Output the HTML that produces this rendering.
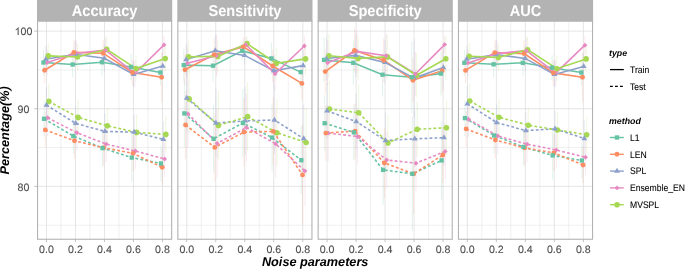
<!DOCTYPE html>
<html><head><meta charset="utf-8"><style>
html,body{margin:0;padding:0;background:#fff;}
body{width:685px;height:269px;overflow:hidden;position:relative;font-family:"Liberation Sans",sans-serif;}
</style></head><body>
<svg width="685" height="269" viewBox="0 0 685 269" style="position:absolute;left:0;top:0;will-change:transform;text-rendering:geometricPrecision">
<rect x="0" y="0" width="685" height="269" fill="#FFFFFF"/>
<line x1="60.95" y1="21.5" x2="60.95" y2="239.8" stroke="#DEDEDE" stroke-width="0.45"/>
<line x1="89.95" y1="21.5" x2="89.95" y2="239.8" stroke="#DEDEDE" stroke-width="0.45"/>
<line x1="118.95" y1="21.5" x2="118.95" y2="239.8" stroke="#DEDEDE" stroke-width="0.45"/>
<line x1="147.95" y1="21.5" x2="147.95" y2="239.8" stroke="#DEDEDE" stroke-width="0.45"/>
<line x1="37" y1="225.21" x2="172.2" y2="225.21" stroke="#DEDEDE" stroke-width="0.45"/>
<line x1="37" y1="147.59" x2="172.2" y2="147.59" stroke="#DEDEDE" stroke-width="0.45"/>
<line x1="37" y1="69.96" x2="172.2" y2="69.96" stroke="#DEDEDE" stroke-width="0.45"/>
<line x1="46.45" y1="21.5" x2="46.45" y2="239.8" stroke="#DEDEDE" stroke-width="0.8"/>
<line x1="75.45" y1="21.5" x2="75.45" y2="239.8" stroke="#DEDEDE" stroke-width="0.8"/>
<line x1="104.45" y1="21.5" x2="104.45" y2="239.8" stroke="#DEDEDE" stroke-width="0.8"/>
<line x1="133.45" y1="21.5" x2="133.45" y2="239.8" stroke="#DEDEDE" stroke-width="0.8"/>
<line x1="162.45" y1="21.5" x2="162.45" y2="239.8" stroke="#DEDEDE" stroke-width="0.8"/>
<line x1="37" y1="186.4" x2="172.2" y2="186.4" stroke="#DEDEDE" stroke-width="0.8"/>
<line x1="37" y1="108.78" x2="172.2" y2="108.78" stroke="#DEDEDE" stroke-width="0.8"/>
<line x1="37" y1="31.15" x2="172.2" y2="31.15" stroke="#DEDEDE" stroke-width="0.8"/>
<line x1="43.45" y1="49.5" x2="43.45" y2="75.5" stroke="#66C2A5" stroke-width="0.9" stroke-opacity="0.22"/>
<line x1="72.69" y1="51.5" x2="72.69" y2="77.5" stroke="#66C2A5" stroke-width="0.9" stroke-opacity="0.22"/>
<line x1="101.93" y1="49.2" x2="101.93" y2="75.2" stroke="#66C2A5" stroke-width="0.9" stroke-opacity="0.22"/>
<line x1="131.17" y1="54" x2="131.17" y2="80" stroke="#66C2A5" stroke-width="0.9" stroke-opacity="0.22"/>
<line x1="160.41" y1="59.5" x2="160.41" y2="85.5" stroke="#66C2A5" stroke-width="0.9" stroke-opacity="0.22"/>
<line x1="44.65" y1="57.2" x2="44.65" y2="83.2" stroke="#FC8D62" stroke-width="0.9" stroke-opacity="0.22"/>
<line x1="73.89" y1="39.4" x2="73.89" y2="65.4" stroke="#FC8D62" stroke-width="0.9" stroke-opacity="0.22"/>
<line x1="103.13" y1="40.2" x2="103.13" y2="66.2" stroke="#FC8D62" stroke-width="0.9" stroke-opacity="0.22"/>
<line x1="132.37" y1="59.5" x2="132.37" y2="85.5" stroke="#FC8D62" stroke-width="0.9" stroke-opacity="0.22"/>
<line x1="161.61" y1="52.2" x2="161.61" y2="102.2" stroke="#FC8D62" stroke-width="0.9" stroke-opacity="0.22"/>
<line x1="45.85" y1="46.3" x2="45.85" y2="72.3" stroke="#8DA0CB" stroke-width="0.9" stroke-opacity="0.22"/>
<line x1="75.09" y1="41.2" x2="75.09" y2="67.2" stroke="#8DA0CB" stroke-width="0.9" stroke-opacity="0.22"/>
<line x1="104.33" y1="45.3" x2="104.33" y2="71.3" stroke="#8DA0CB" stroke-width="0.9" stroke-opacity="0.22"/>
<line x1="133.57" y1="61.4" x2="133.57" y2="87.4" stroke="#8DA0CB" stroke-width="0.9" stroke-opacity="0.22"/>
<line x1="162.81" y1="53" x2="162.81" y2="79" stroke="#8DA0CB" stroke-width="0.9" stroke-opacity="0.22"/>
<line x1="47.05" y1="49.5" x2="47.05" y2="75.5" stroke="#E78AC3" stroke-width="0.9" stroke-opacity="0.22"/>
<line x1="76.29" y1="40.2" x2="76.29" y2="66.2" stroke="#E78AC3" stroke-width="0.9" stroke-opacity="0.22"/>
<line x1="105.53" y1="37.2" x2="105.53" y2="63.2" stroke="#E78AC3" stroke-width="0.9" stroke-opacity="0.22"/>
<line x1="134.77" y1="60.5" x2="134.77" y2="86.5" stroke="#E78AC3" stroke-width="0.9" stroke-opacity="0.22"/>
<line x1="164.01" y1="35.9" x2="164.01" y2="53.9" stroke="#E78AC3" stroke-width="0.9" stroke-opacity="0.22"/>
<line x1="48.25" y1="42.9" x2="48.25" y2="68.9" stroke="#A6D854" stroke-width="0.9" stroke-opacity="0.22"/>
<line x1="77.49" y1="44" x2="77.49" y2="70" stroke="#A6D854" stroke-width="0.9" stroke-opacity="0.22"/>
<line x1="106.73" y1="36.3" x2="106.73" y2="62.3" stroke="#A6D854" stroke-width="0.9" stroke-opacity="0.22"/>
<line x1="135.97" y1="55.6" x2="135.97" y2="81.6" stroke="#A6D854" stroke-width="0.9" stroke-opacity="0.22"/>
<line x1="165.21" y1="45.6" x2="165.21" y2="71.6" stroke="#A6D854" stroke-width="0.9" stroke-opacity="0.22"/>
<line x1="44.05" y1="100.8" x2="44.05" y2="136.8" stroke="#66C2A5" stroke-width="0.9" stroke-opacity="0.22"/>
<line x1="73.29" y1="118" x2="73.29" y2="154" stroke="#66C2A5" stroke-width="0.9" stroke-opacity="0.22"/>
<line x1="102.53" y1="130.1" x2="102.53" y2="166.1" stroke="#66C2A5" stroke-width="0.9" stroke-opacity="0.22"/>
<line x1="131.77" y1="133.6" x2="131.77" y2="181.6" stroke="#66C2A5" stroke-width="0.9" stroke-opacity="0.22"/>
<line x1="161.01" y1="145.5" x2="161.01" y2="181.5" stroke="#66C2A5" stroke-width="0.9" stroke-opacity="0.22"/>
<line x1="45.25" y1="111.9" x2="45.25" y2="147.9" stroke="#FC8D62" stroke-width="0.9" stroke-opacity="0.22"/>
<line x1="74.49" y1="122.8" x2="74.49" y2="158.8" stroke="#FC8D62" stroke-width="0.9" stroke-opacity="0.22"/>
<line x1="103.73" y1="129.7" x2="103.73" y2="165.7" stroke="#FC8D62" stroke-width="0.9" stroke-opacity="0.22"/>
<line x1="132.97" y1="135.4" x2="132.97" y2="171.4" stroke="#FC8D62" stroke-width="0.9" stroke-opacity="0.22"/>
<line x1="162.21" y1="149.3" x2="162.21" y2="185.3" stroke="#FC8D62" stroke-width="0.9" stroke-opacity="0.22"/>
<line x1="46.45" y1="87.1" x2="46.45" y2="123.1" stroke="#8DA0CB" stroke-width="0.9" stroke-opacity="0.22"/>
<line x1="75.69" y1="105.4" x2="75.69" y2="141.4" stroke="#8DA0CB" stroke-width="0.9" stroke-opacity="0.22"/>
<line x1="104.93" y1="113.4" x2="104.93" y2="149.4" stroke="#8DA0CB" stroke-width="0.9" stroke-opacity="0.22"/>
<line x1="134.17" y1="114.1" x2="134.17" y2="150.1" stroke="#8DA0CB" stroke-width="0.9" stroke-opacity="0.22"/>
<line x1="163.41" y1="121.4" x2="163.41" y2="157.4" stroke="#8DA0CB" stroke-width="0.9" stroke-opacity="0.22"/>
<line x1="47.65" y1="99.8" x2="47.65" y2="135.8" stroke="#E78AC3" stroke-width="0.9" stroke-opacity="0.22"/>
<line x1="76.89" y1="114.7" x2="76.89" y2="150.7" stroke="#E78AC3" stroke-width="0.9" stroke-opacity="0.22"/>
<line x1="106.13" y1="126.1" x2="106.13" y2="162.1" stroke="#E78AC3" stroke-width="0.9" stroke-opacity="0.22"/>
<line x1="135.37" y1="133" x2="135.37" y2="169" stroke="#E78AC3" stroke-width="0.9" stroke-opacity="0.22"/>
<line x1="164.61" y1="141" x2="164.61" y2="177" stroke="#E78AC3" stroke-width="0.9" stroke-opacity="0.22"/>
<line x1="48.85" y1="83.4" x2="48.85" y2="119.4" stroke="#A6D854" stroke-width="0.9" stroke-opacity="0.22"/>
<line x1="78.09" y1="99.4" x2="78.09" y2="135.4" stroke="#A6D854" stroke-width="0.9" stroke-opacity="0.22"/>
<line x1="107.33" y1="107.8" x2="107.33" y2="143.8" stroke="#A6D854" stroke-width="0.9" stroke-opacity="0.22"/>
<line x1="136.57" y1="114.4" x2="136.57" y2="150.4" stroke="#A6D854" stroke-width="0.9" stroke-opacity="0.22"/>
<line x1="165.81" y1="116.4" x2="165.81" y2="152.4" stroke="#A6D854" stroke-width="0.9" stroke-opacity="0.22"/>
<polyline points="43.45,62.5 72.69,64.5 101.93,62.2 131.17,67 160.41,72.5" fill="none" stroke="#66C2A5" stroke-width="1.6"/>
<polyline points="44.65,70.2 73.89,52.4 103.13,53.2 132.37,72.5 161.61,77.2" fill="none" stroke="#FC8D62" stroke-width="1.6"/>
<polyline points="45.85,59.3 75.09,54.2 104.33,58.3 133.57,74.4 162.81,66" fill="none" stroke="#8DA0CB" stroke-width="1.6"/>
<polyline points="47.05,62.5 76.29,53.2 105.53,50.2 134.77,73.5 164.01,44.9" fill="none" stroke="#E78AC3" stroke-width="1.6"/>
<polyline points="48.25,55.9 77.49,57 106.73,49.3 135.97,68.6 165.21,58.6" fill="none" stroke="#A6D854" stroke-width="1.6"/>
<polyline points="44.05,118.8 73.29,136 102.53,148.1 131.77,157.6 161.01,163.5" fill="none" stroke="#66C2A5" stroke-width="1.6" stroke-dasharray="2.8 2.2"/>
<polyline points="45.25,129.9 74.49,140.8 103.73,147.7 132.97,153.4 162.21,167.3" fill="none" stroke="#FC8D62" stroke-width="1.6" stroke-dasharray="2.8 2.2"/>
<polyline points="46.45,105.1 75.69,123.4 104.93,131.4 134.17,132.1 163.41,139.4" fill="none" stroke="#8DA0CB" stroke-width="1.6" stroke-dasharray="2.8 2.2"/>
<polyline points="47.65,117.8 76.89,132.7 106.13,144.1 135.37,151 164.61,159" fill="none" stroke="#E78AC3" stroke-width="1.6" stroke-dasharray="2.8 2.2"/>
<polyline points="48.85,101.4 78.09,117.4 107.33,125.8 136.57,132.4 165.81,134.4" fill="none" stroke="#A6D854" stroke-width="1.6" stroke-dasharray="2.8 2.2"/>
<circle cx="48.25" cy="55.9" r="2.8" fill="#A6D854"/>
<circle cx="77.49" cy="57" r="2.8" fill="#A6D854"/>
<circle cx="106.73" cy="49.3" r="2.8" fill="#A6D854"/>
<circle cx="135.97" cy="68.6" r="2.8" fill="#A6D854"/>
<circle cx="165.21" cy="58.6" r="2.8" fill="#A6D854"/>
<polygon points="47.05,60.05 49.5,62.5 47.05,64.95 44.6,62.5" fill="#E78AC3"/>
<polygon points="76.29,50.75 78.74,53.2 76.29,55.65 73.84,53.2" fill="#E78AC3"/>
<polygon points="105.53,47.75 107.98,50.2 105.53,52.65 103.08,50.2" fill="#E78AC3"/>
<polygon points="134.77,71.05 137.22,73.5 134.77,75.95 132.32,73.5" fill="#E78AC3"/>
<polygon points="164.01,42.45 166.46,44.9 164.01,47.35 161.56,44.9" fill="#E78AC3"/>
<polygon points="45.85,55.96 42.95,60.97 48.75,60.97" fill="#8DA0CB"/>
<polygon points="75.09,50.86 72.19,55.87 77.99,55.87" fill="#8DA0CB"/>
<polygon points="104.33,54.96 101.43,59.97 107.23,59.97" fill="#8DA0CB"/>
<polygon points="133.57,71.06 130.67,76.07 136.47,76.07" fill="#8DA0CB"/>
<polygon points="162.81,62.66 159.91,67.67 165.71,67.67" fill="#8DA0CB"/>
<circle cx="44.65" cy="70.2" r="2.45" fill="#FC8D62"/>
<circle cx="73.89" cy="52.4" r="2.45" fill="#FC8D62"/>
<circle cx="103.13" cy="53.2" r="2.45" fill="#FC8D62"/>
<circle cx="132.37" cy="72.5" r="2.45" fill="#FC8D62"/>
<circle cx="161.61" cy="77.2" r="2.45" fill="#FC8D62"/>
<rect x="41.28" y="60.33" width="4.34" height="4.34" fill="#66C2A5"/>
<rect x="70.52" y="62.33" width="4.34" height="4.34" fill="#66C2A5"/>
<rect x="99.76" y="60.03" width="4.34" height="4.34" fill="#66C2A5"/>
<rect x="129" y="64.83" width="4.34" height="4.34" fill="#66C2A5"/>
<rect x="158.24" y="70.33" width="4.34" height="4.34" fill="#66C2A5"/>
<circle cx="48.85" cy="101.4" r="2.8" fill="#A6D854"/>
<circle cx="78.09" cy="117.4" r="2.8" fill="#A6D854"/>
<circle cx="107.33" cy="125.8" r="2.8" fill="#A6D854"/>
<circle cx="136.57" cy="132.4" r="2.8" fill="#A6D854"/>
<circle cx="165.81" cy="134.4" r="2.8" fill="#A6D854"/>
<polygon points="47.65,115.35 50.1,117.8 47.65,120.25 45.2,117.8" fill="#E78AC3"/>
<polygon points="76.89,130.25 79.34,132.7 76.89,135.15 74.44,132.7" fill="#E78AC3"/>
<polygon points="106.13,141.65 108.58,144.1 106.13,146.55 103.68,144.1" fill="#E78AC3"/>
<polygon points="135.37,148.55 137.82,151 135.37,153.45 132.92,151" fill="#E78AC3"/>
<polygon points="164.61,156.55 167.06,159 164.61,161.45 162.16,159" fill="#E78AC3"/>
<polygon points="46.45,101.76 43.55,106.77 49.35,106.77" fill="#8DA0CB"/>
<polygon points="75.69,120.06 72.79,125.07 78.59,125.07" fill="#8DA0CB"/>
<polygon points="104.93,128.06 102.03,133.07 107.83,133.07" fill="#8DA0CB"/>
<polygon points="134.17,128.76 131.27,133.77 137.07,133.77" fill="#8DA0CB"/>
<polygon points="163.41,136.06 160.51,141.07 166.31,141.07" fill="#8DA0CB"/>
<circle cx="45.25" cy="129.9" r="2.45" fill="#FC8D62"/>
<circle cx="74.49" cy="140.8" r="2.45" fill="#FC8D62"/>
<circle cx="103.73" cy="147.7" r="2.45" fill="#FC8D62"/>
<circle cx="132.97" cy="153.4" r="2.45" fill="#FC8D62"/>
<circle cx="162.21" cy="167.3" r="2.45" fill="#FC8D62"/>
<rect x="41.88" y="116.63" width="4.34" height="4.34" fill="#66C2A5"/>
<rect x="71.12" y="133.83" width="4.34" height="4.34" fill="#66C2A5"/>
<rect x="100.36" y="145.93" width="4.34" height="4.34" fill="#66C2A5"/>
<rect x="129.6" y="155.43" width="4.34" height="4.34" fill="#66C2A5"/>
<rect x="158.84" y="161.33" width="4.34" height="4.34" fill="#66C2A5"/>
<rect x="37.55" y="20.9" width="134.1" height="218.35" fill="none" stroke="#B3B3B3" stroke-width="1.1"/>
<rect x="37" y="0" width="135.2" height="21.6" fill="#B3B3B3"/>
<text transform="translate(104.6,15.6) scale(1,1.07)" text-anchor="middle" font-family="Liberation Sans, sans-serif" font-weight="bold" font-size="14.6" fill="#FFFFFF">Accuracy</text>
<line x1="46.45" y1="239.8" x2="46.45" y2="242.1" stroke="#B3B3B3" stroke-width="0.8"/>
<text x="46.45" y="253.3" text-anchor="middle" font-family="Liberation Sans, sans-serif" font-size="10.6" fill="#4D4D4D" stroke="#4D4D4D" stroke-width="0.1">0.0</text>
<line x1="75.45" y1="239.8" x2="75.45" y2="242.1" stroke="#B3B3B3" stroke-width="0.8"/>
<text x="75.45" y="253.3" text-anchor="middle" font-family="Liberation Sans, sans-serif" font-size="10.6" fill="#4D4D4D" stroke="#4D4D4D" stroke-width="0.1">0.2</text>
<line x1="104.45" y1="239.8" x2="104.45" y2="242.1" stroke="#B3B3B3" stroke-width="0.8"/>
<text x="104.45" y="253.3" text-anchor="middle" font-family="Liberation Sans, sans-serif" font-size="10.6" fill="#4D4D4D" stroke="#4D4D4D" stroke-width="0.1">0.4</text>
<line x1="133.45" y1="239.8" x2="133.45" y2="242.1" stroke="#B3B3B3" stroke-width="0.8"/>
<text x="133.45" y="253.3" text-anchor="middle" font-family="Liberation Sans, sans-serif" font-size="10.6" fill="#4D4D4D" stroke="#4D4D4D" stroke-width="0.1">0.6</text>
<line x1="162.45" y1="239.8" x2="162.45" y2="242.1" stroke="#B3B3B3" stroke-width="0.8"/>
<text x="162.45" y="253.3" text-anchor="middle" font-family="Liberation Sans, sans-serif" font-size="10.6" fill="#4D4D4D" stroke="#4D4D4D" stroke-width="0.1">0.8</text>
<line x1="201.25" y1="21.5" x2="201.25" y2="239.8" stroke="#DEDEDE" stroke-width="0.45"/>
<line x1="230.25" y1="21.5" x2="230.25" y2="239.8" stroke="#DEDEDE" stroke-width="0.45"/>
<line x1="259.25" y1="21.5" x2="259.25" y2="239.8" stroke="#DEDEDE" stroke-width="0.45"/>
<line x1="288.25" y1="21.5" x2="288.25" y2="239.8" stroke="#DEDEDE" stroke-width="0.45"/>
<line x1="177.3" y1="225.21" x2="312.5" y2="225.21" stroke="#DEDEDE" stroke-width="0.45"/>
<line x1="177.3" y1="147.59" x2="312.5" y2="147.59" stroke="#DEDEDE" stroke-width="0.45"/>
<line x1="177.3" y1="69.96" x2="312.5" y2="69.96" stroke="#DEDEDE" stroke-width="0.45"/>
<line x1="186.75" y1="21.5" x2="186.75" y2="239.8" stroke="#DEDEDE" stroke-width="0.8"/>
<line x1="215.75" y1="21.5" x2="215.75" y2="239.8" stroke="#DEDEDE" stroke-width="0.8"/>
<line x1="244.75" y1="21.5" x2="244.75" y2="239.8" stroke="#DEDEDE" stroke-width="0.8"/>
<line x1="273.75" y1="21.5" x2="273.75" y2="239.8" stroke="#DEDEDE" stroke-width="0.8"/>
<line x1="302.75" y1="21.5" x2="302.75" y2="239.8" stroke="#DEDEDE" stroke-width="0.8"/>
<line x1="177.3" y1="186.4" x2="312.5" y2="186.4" stroke="#DEDEDE" stroke-width="0.8"/>
<line x1="177.3" y1="108.78" x2="312.5" y2="108.78" stroke="#DEDEDE" stroke-width="0.8"/>
<line x1="177.3" y1="31.15" x2="312.5" y2="31.15" stroke="#DEDEDE" stroke-width="0.8"/>
<line x1="183.75" y1="49.1" x2="183.75" y2="81.1" stroke="#66C2A5" stroke-width="0.9" stroke-opacity="0.22"/>
<line x1="212.99" y1="49.7" x2="212.99" y2="81.7" stroke="#66C2A5" stroke-width="0.9" stroke-opacity="0.22"/>
<line x1="242.23" y1="41.9" x2="242.23" y2="59.9" stroke="#66C2A5" stroke-width="0.9" stroke-opacity="0.22"/>
<line x1="271.47" y1="42.4" x2="271.47" y2="74.4" stroke="#66C2A5" stroke-width="0.9" stroke-opacity="0.22"/>
<line x1="300.71" y1="56.1" x2="300.71" y2="88.1" stroke="#66C2A5" stroke-width="0.9" stroke-opacity="0.22"/>
<line x1="184.95" y1="53.8" x2="184.95" y2="85.8" stroke="#FC8D62" stroke-width="0.9" stroke-opacity="0.22"/>
<line x1="214.19" y1="38.6" x2="214.19" y2="70.6" stroke="#FC8D62" stroke-width="0.9" stroke-opacity="0.22"/>
<line x1="243.43" y1="37.9" x2="243.43" y2="55.9" stroke="#FC8D62" stroke-width="0.9" stroke-opacity="0.22"/>
<line x1="272.67" y1="50" x2="272.67" y2="82" stroke="#FC8D62" stroke-width="0.9" stroke-opacity="0.22"/>
<line x1="301.91" y1="67.4" x2="301.91" y2="99.4" stroke="#FC8D62" stroke-width="0.9" stroke-opacity="0.22"/>
<line x1="186.15" y1="43.6" x2="186.15" y2="75.6" stroke="#8DA0CB" stroke-width="0.9" stroke-opacity="0.22"/>
<line x1="215.39" y1="34.7" x2="215.39" y2="66.7" stroke="#8DA0CB" stroke-width="0.9" stroke-opacity="0.22"/>
<line x1="244.63" y1="46.4" x2="244.63" y2="64.4" stroke="#8DA0CB" stroke-width="0.9" stroke-opacity="0.22"/>
<line x1="273.87" y1="54.7" x2="273.87" y2="86.7" stroke="#8DA0CB" stroke-width="0.9" stroke-opacity="0.22"/>
<line x1="303.11" y1="49.6" x2="303.11" y2="81.6" stroke="#8DA0CB" stroke-width="0.9" stroke-opacity="0.22"/>
<line x1="187.35" y1="47.3" x2="187.35" y2="79.3" stroke="#E78AC3" stroke-width="0.9" stroke-opacity="0.22"/>
<line x1="216.59" y1="34.7" x2="216.59" y2="76.7" stroke="#E78AC3" stroke-width="0.9" stroke-opacity="0.22"/>
<line x1="245.83" y1="36.8" x2="245.83" y2="52.8" stroke="#E78AC3" stroke-width="0.9" stroke-opacity="0.22"/>
<line x1="275.07" y1="57.9" x2="275.07" y2="89.9" stroke="#E78AC3" stroke-width="0.9" stroke-opacity="0.22"/>
<line x1="304.31" y1="36" x2="304.31" y2="56" stroke="#E78AC3" stroke-width="0.9" stroke-opacity="0.22"/>
<line x1="188.55" y1="40.8" x2="188.55" y2="72.8" stroke="#A6D854" stroke-width="0.9" stroke-opacity="0.22"/>
<line x1="217.79" y1="40.4" x2="217.79" y2="72.4" stroke="#A6D854" stroke-width="0.9" stroke-opacity="0.22"/>
<line x1="247.03" y1="36.6" x2="247.03" y2="50.6" stroke="#A6D854" stroke-width="0.9" stroke-opacity="0.22"/>
<line x1="276.27" y1="47.4" x2="276.27" y2="79.4" stroke="#A6D854" stroke-width="0.9" stroke-opacity="0.22"/>
<line x1="305.51" y1="42.9" x2="305.51" y2="74.9" stroke="#A6D854" stroke-width="0.9" stroke-opacity="0.22"/>
<line x1="184.35" y1="79.4" x2="184.35" y2="147.4" stroke="#66C2A5" stroke-width="0.9" stroke-opacity="0.22"/>
<line x1="213.59" y1="104.8" x2="213.59" y2="172.8" stroke="#66C2A5" stroke-width="0.9" stroke-opacity="0.22"/>
<line x1="242.83" y1="89" x2="242.83" y2="157" stroke="#66C2A5" stroke-width="0.9" stroke-opacity="0.22"/>
<line x1="272.07" y1="103.6" x2="272.07" y2="171.6" stroke="#66C2A5" stroke-width="0.9" stroke-opacity="0.22"/>
<line x1="301.31" y1="126.2" x2="301.31" y2="194.2" stroke="#66C2A5" stroke-width="0.9" stroke-opacity="0.22"/>
<line x1="185.55" y1="91" x2="185.55" y2="159" stroke="#FC8D62" stroke-width="0.9" stroke-opacity="0.22"/>
<line x1="214.79" y1="113.4" x2="214.79" y2="181.4" stroke="#FC8D62" stroke-width="0.9" stroke-opacity="0.22"/>
<line x1="244.03" y1="98.1" x2="244.03" y2="166.1" stroke="#FC8D62" stroke-width="0.9" stroke-opacity="0.22"/>
<line x1="273.27" y1="97.4" x2="273.27" y2="165.4" stroke="#FC8D62" stroke-width="0.9" stroke-opacity="0.22"/>
<line x1="302.51" y1="124.9" x2="302.51" y2="224.9" stroke="#FC8D62" stroke-width="0.9" stroke-opacity="0.22"/>
<line x1="186.75" y1="64.2" x2="186.75" y2="132.2" stroke="#8DA0CB" stroke-width="0.9" stroke-opacity="0.22"/>
<line x1="215.99" y1="89.1" x2="215.99" y2="157.1" stroke="#8DA0CB" stroke-width="0.9" stroke-opacity="0.22"/>
<line x1="245.23" y1="86.9" x2="245.23" y2="154.9" stroke="#8DA0CB" stroke-width="0.9" stroke-opacity="0.22"/>
<line x1="274.47" y1="86" x2="274.47" y2="154" stroke="#8DA0CB" stroke-width="0.9" stroke-opacity="0.22"/>
<line x1="303.71" y1="104.7" x2="303.71" y2="172.7" stroke="#8DA0CB" stroke-width="0.9" stroke-opacity="0.22"/>
<line x1="187.95" y1="79.8" x2="187.95" y2="147.8" stroke="#E78AC3" stroke-width="0.9" stroke-opacity="0.22"/>
<line x1="217.19" y1="109.5" x2="217.19" y2="177.5" stroke="#E78AC3" stroke-width="0.9" stroke-opacity="0.22"/>
<line x1="246.43" y1="93.5" x2="246.43" y2="161.5" stroke="#E78AC3" stroke-width="0.9" stroke-opacity="0.22"/>
<line x1="275.67" y1="109.9" x2="275.67" y2="177.9" stroke="#E78AC3" stroke-width="0.9" stroke-opacity="0.22"/>
<line x1="304.91" y1="136" x2="304.91" y2="206" stroke="#E78AC3" stroke-width="0.9" stroke-opacity="0.22"/>
<line x1="189.15" y1="64.9" x2="189.15" y2="132.9" stroke="#A6D854" stroke-width="0.9" stroke-opacity="0.22"/>
<line x1="218.39" y1="91.4" x2="218.39" y2="159.4" stroke="#A6D854" stroke-width="0.9" stroke-opacity="0.22"/>
<line x1="247.63" y1="82.6" x2="247.63" y2="150.6" stroke="#A6D854" stroke-width="0.9" stroke-opacity="0.22"/>
<line x1="276.87" y1="98.7" x2="276.87" y2="166.7" stroke="#A6D854" stroke-width="0.9" stroke-opacity="0.22"/>
<line x1="306.11" y1="108.5" x2="306.11" y2="176.5" stroke="#A6D854" stroke-width="0.9" stroke-opacity="0.22"/>
<polyline points="183.75,65.1 212.99,65.7 242.23,50.9 271.47,58.4 300.71,72.1" fill="none" stroke="#66C2A5" stroke-width="1.6"/>
<polyline points="184.95,69.8 214.19,54.6 243.43,46.9 272.67,66 301.91,83.4" fill="none" stroke="#FC8D62" stroke-width="1.6"/>
<polyline points="186.15,59.6 215.39,50.7 244.63,55.4 273.87,70.7 303.11,65.6" fill="none" stroke="#8DA0CB" stroke-width="1.6"/>
<polyline points="187.35,63.3 216.59,55.7 245.83,44.8 275.07,73.9 304.31,46" fill="none" stroke="#E78AC3" stroke-width="1.6"/>
<polyline points="188.55,56.8 217.79,56.4 247.03,43.6 276.27,63.4 305.51,58.9" fill="none" stroke="#A6D854" stroke-width="1.6"/>
<polyline points="184.35,113.4 213.59,138.8 242.83,123 272.07,137.6 301.31,160.2" fill="none" stroke="#66C2A5" stroke-width="1.6" stroke-dasharray="2.8 2.2"/>
<polyline points="185.55,125 214.79,147.4 244.03,132.1 273.27,131.4 302.51,174.9" fill="none" stroke="#FC8D62" stroke-width="1.6" stroke-dasharray="2.8 2.2"/>
<polyline points="186.75,98.2 215.99,123.1 245.23,120.9 274.47,120 303.71,138.7" fill="none" stroke="#8DA0CB" stroke-width="1.6" stroke-dasharray="2.8 2.2"/>
<polyline points="187.95,113.8 217.19,143.5 246.43,127.5 275.67,143.9 304.91,171" fill="none" stroke="#E78AC3" stroke-width="1.6" stroke-dasharray="2.8 2.2"/>
<polyline points="189.15,98.9 218.39,125.4 247.63,116.6 276.87,132.7 306.11,142.5" fill="none" stroke="#A6D854" stroke-width="1.6" stroke-dasharray="2.8 2.2"/>
<circle cx="188.55" cy="56.8" r="2.8" fill="#A6D854"/>
<circle cx="217.79" cy="56.4" r="2.8" fill="#A6D854"/>
<circle cx="247.03" cy="43.6" r="2.8" fill="#A6D854"/>
<circle cx="276.27" cy="63.4" r="2.8" fill="#A6D854"/>
<circle cx="305.51" cy="58.9" r="2.8" fill="#A6D854"/>
<polygon points="187.35,60.85 189.8,63.3 187.35,65.75 184.9,63.3" fill="#E78AC3"/>
<polygon points="216.59,53.25 219.04,55.7 216.59,58.15 214.14,55.7" fill="#E78AC3"/>
<polygon points="245.83,42.35 248.28,44.8 245.83,47.25 243.38,44.8" fill="#E78AC3"/>
<polygon points="275.07,71.45 277.52,73.9 275.07,76.35 272.62,73.9" fill="#E78AC3"/>
<polygon points="304.31,43.55 306.76,46 304.31,48.45 301.86,46" fill="#E78AC3"/>
<polygon points="186.15,56.26 183.25,61.27 189.05,61.27" fill="#8DA0CB"/>
<polygon points="215.39,47.36 212.49,52.37 218.29,52.37" fill="#8DA0CB"/>
<polygon points="244.63,52.06 241.73,57.07 247.53,57.07" fill="#8DA0CB"/>
<polygon points="273.87,67.36 270.97,72.37 276.77,72.37" fill="#8DA0CB"/>
<polygon points="303.11,62.26 300.21,67.27 306.01,67.27" fill="#8DA0CB"/>
<circle cx="184.95" cy="69.8" r="2.45" fill="#FC8D62"/>
<circle cx="214.19" cy="54.6" r="2.45" fill="#FC8D62"/>
<circle cx="243.43" cy="46.9" r="2.45" fill="#FC8D62"/>
<circle cx="272.67" cy="66" r="2.45" fill="#FC8D62"/>
<circle cx="301.91" cy="83.4" r="2.45" fill="#FC8D62"/>
<rect x="181.58" y="62.93" width="4.34" height="4.34" fill="#66C2A5"/>
<rect x="210.82" y="63.53" width="4.34" height="4.34" fill="#66C2A5"/>
<rect x="240.06" y="48.73" width="4.34" height="4.34" fill="#66C2A5"/>
<rect x="269.3" y="56.23" width="4.34" height="4.34" fill="#66C2A5"/>
<rect x="298.54" y="69.93" width="4.34" height="4.34" fill="#66C2A5"/>
<circle cx="189.15" cy="98.9" r="2.8" fill="#A6D854"/>
<circle cx="218.39" cy="125.4" r="2.8" fill="#A6D854"/>
<circle cx="247.63" cy="116.6" r="2.8" fill="#A6D854"/>
<circle cx="276.87" cy="132.7" r="2.8" fill="#A6D854"/>
<circle cx="306.11" cy="142.5" r="2.8" fill="#A6D854"/>
<polygon points="187.95,111.35 190.4,113.8 187.95,116.25 185.5,113.8" fill="#E78AC3"/>
<polygon points="217.19,141.05 219.64,143.5 217.19,145.95 214.74,143.5" fill="#E78AC3"/>
<polygon points="246.43,125.05 248.88,127.5 246.43,129.95 243.98,127.5" fill="#E78AC3"/>
<polygon points="275.67,141.45 278.12,143.9 275.67,146.35 273.22,143.9" fill="#E78AC3"/>
<polygon points="304.91,168.55 307.36,171 304.91,173.45 302.46,171" fill="#E78AC3"/>
<polygon points="186.75,94.86 183.85,99.87 189.65,99.87" fill="#8DA0CB"/>
<polygon points="215.99,119.76 213.09,124.77 218.89,124.77" fill="#8DA0CB"/>
<polygon points="245.23,117.56 242.33,122.57 248.13,122.57" fill="#8DA0CB"/>
<polygon points="274.47,116.66 271.57,121.67 277.37,121.67" fill="#8DA0CB"/>
<polygon points="303.71,135.36 300.81,140.37 306.61,140.37" fill="#8DA0CB"/>
<circle cx="185.55" cy="125" r="2.45" fill="#FC8D62"/>
<circle cx="214.79" cy="147.4" r="2.45" fill="#FC8D62"/>
<circle cx="244.03" cy="132.1" r="2.45" fill="#FC8D62"/>
<circle cx="273.27" cy="131.4" r="2.45" fill="#FC8D62"/>
<circle cx="302.51" cy="174.9" r="2.45" fill="#FC8D62"/>
<rect x="182.18" y="111.23" width="4.34" height="4.34" fill="#66C2A5"/>
<rect x="211.42" y="136.63" width="4.34" height="4.34" fill="#66C2A5"/>
<rect x="240.66" y="120.83" width="4.34" height="4.34" fill="#66C2A5"/>
<rect x="269.9" y="135.43" width="4.34" height="4.34" fill="#66C2A5"/>
<rect x="299.14" y="158.03" width="4.34" height="4.34" fill="#66C2A5"/>
<rect x="177.85" y="20.9" width="134.1" height="218.35" fill="none" stroke="#B3B3B3" stroke-width="1.1"/>
<rect x="177.3" y="0" width="135.2" height="21.6" fill="#B3B3B3"/>
<text transform="translate(244.9,15.6) scale(1,1.07)" text-anchor="middle" font-family="Liberation Sans, sans-serif" font-weight="bold" font-size="14.6" fill="#FFFFFF">Sensitivity</text>
<line x1="186.75" y1="239.8" x2="186.75" y2="242.1" stroke="#B3B3B3" stroke-width="0.8"/>
<text x="186.75" y="253.3" text-anchor="middle" font-family="Liberation Sans, sans-serif" font-size="10.6" fill="#4D4D4D" stroke="#4D4D4D" stroke-width="0.1">0.0</text>
<line x1="215.75" y1="239.8" x2="215.75" y2="242.1" stroke="#B3B3B3" stroke-width="0.8"/>
<text x="215.75" y="253.3" text-anchor="middle" font-family="Liberation Sans, sans-serif" font-size="10.6" fill="#4D4D4D" stroke="#4D4D4D" stroke-width="0.1">0.2</text>
<line x1="244.75" y1="239.8" x2="244.75" y2="242.1" stroke="#B3B3B3" stroke-width="0.8"/>
<text x="244.75" y="253.3" text-anchor="middle" font-family="Liberation Sans, sans-serif" font-size="10.6" fill="#4D4D4D" stroke="#4D4D4D" stroke-width="0.1">0.4</text>
<line x1="273.75" y1="239.8" x2="273.75" y2="242.1" stroke="#B3B3B3" stroke-width="0.8"/>
<text x="273.75" y="253.3" text-anchor="middle" font-family="Liberation Sans, sans-serif" font-size="10.6" fill="#4D4D4D" stroke="#4D4D4D" stroke-width="0.1">0.6</text>
<line x1="302.75" y1="239.8" x2="302.75" y2="242.1" stroke="#B3B3B3" stroke-width="0.8"/>
<text x="302.75" y="253.3" text-anchor="middle" font-family="Liberation Sans, sans-serif" font-size="10.6" fill="#4D4D4D" stroke="#4D4D4D" stroke-width="0.1">0.8</text>
<line x1="341.55" y1="21.5" x2="341.55" y2="239.8" stroke="#DEDEDE" stroke-width="0.45"/>
<line x1="370.55" y1="21.5" x2="370.55" y2="239.8" stroke="#DEDEDE" stroke-width="0.45"/>
<line x1="399.55" y1="21.5" x2="399.55" y2="239.8" stroke="#DEDEDE" stroke-width="0.45"/>
<line x1="428.55" y1="21.5" x2="428.55" y2="239.8" stroke="#DEDEDE" stroke-width="0.45"/>
<line x1="317.6" y1="225.21" x2="452.8" y2="225.21" stroke="#DEDEDE" stroke-width="0.45"/>
<line x1="317.6" y1="147.59" x2="452.8" y2="147.59" stroke="#DEDEDE" stroke-width="0.45"/>
<line x1="317.6" y1="69.96" x2="452.8" y2="69.96" stroke="#DEDEDE" stroke-width="0.45"/>
<line x1="327.05" y1="21.5" x2="327.05" y2="239.8" stroke="#DEDEDE" stroke-width="0.8"/>
<line x1="356.05" y1="21.5" x2="356.05" y2="239.8" stroke="#DEDEDE" stroke-width="0.8"/>
<line x1="385.05" y1="21.5" x2="385.05" y2="239.8" stroke="#DEDEDE" stroke-width="0.8"/>
<line x1="414.05" y1="21.5" x2="414.05" y2="239.8" stroke="#DEDEDE" stroke-width="0.8"/>
<line x1="443.05" y1="21.5" x2="443.05" y2="239.8" stroke="#DEDEDE" stroke-width="0.8"/>
<line x1="317.6" y1="186.4" x2="452.8" y2="186.4" stroke="#DEDEDE" stroke-width="0.8"/>
<line x1="317.6" y1="108.78" x2="452.8" y2="108.78" stroke="#DEDEDE" stroke-width="0.8"/>
<line x1="317.6" y1="31.15" x2="452.8" y2="31.15" stroke="#DEDEDE" stroke-width="0.8"/>
<line x1="324.05" y1="37.9" x2="324.05" y2="81.9" stroke="#66C2A5" stroke-width="0.9" stroke-opacity="0.22"/>
<line x1="353.29" y1="40.8" x2="353.29" y2="84.8" stroke="#66C2A5" stroke-width="0.9" stroke-opacity="0.22"/>
<line x1="382.53" y1="52.7" x2="382.53" y2="96.7" stroke="#66C2A5" stroke-width="0.9" stroke-opacity="0.22"/>
<line x1="411.77" y1="41.2" x2="411.77" y2="113.2" stroke="#66C2A5" stroke-width="0.9" stroke-opacity="0.22"/>
<line x1="441.01" y1="51.6" x2="441.01" y2="95.6" stroke="#66C2A5" stroke-width="0.9" stroke-opacity="0.22"/>
<line x1="325.25" y1="49.6" x2="325.25" y2="93.6" stroke="#FC8D62" stroke-width="0.9" stroke-opacity="0.22"/>
<line x1="354.49" y1="28.5" x2="354.49" y2="72.5" stroke="#FC8D62" stroke-width="0.9" stroke-opacity="0.22"/>
<line x1="383.73" y1="38.2" x2="383.73" y2="82.2" stroke="#FC8D62" stroke-width="0.9" stroke-opacity="0.22"/>
<line x1="412.97" y1="58.2" x2="412.97" y2="102.2" stroke="#FC8D62" stroke-width="0.9" stroke-opacity="0.22"/>
<line x1="442.21" y1="48.8" x2="442.21" y2="92.8" stroke="#FC8D62" stroke-width="0.9" stroke-opacity="0.22"/>
<line x1="326.45" y1="36.5" x2="326.45" y2="80.5" stroke="#8DA0CB" stroke-width="0.9" stroke-opacity="0.22"/>
<line x1="355.69" y1="33.4" x2="355.69" y2="77.4" stroke="#8DA0CB" stroke-width="0.9" stroke-opacity="0.22"/>
<line x1="384.93" y1="40.4" x2="384.93" y2="84.4" stroke="#8DA0CB" stroke-width="0.9" stroke-opacity="0.22"/>
<line x1="414.17" y1="39.1" x2="414.17" y2="117.1" stroke="#8DA0CB" stroke-width="0.9" stroke-opacity="0.22"/>
<line x1="443.41" y1="45.6" x2="443.41" y2="89.6" stroke="#8DA0CB" stroke-width="0.9" stroke-opacity="0.22"/>
<line x1="327.65" y1="40.8" x2="327.65" y2="84.8" stroke="#E78AC3" stroke-width="0.9" stroke-opacity="0.22"/>
<line x1="356.89" y1="29.4" x2="356.89" y2="73.4" stroke="#E78AC3" stroke-width="0.9" stroke-opacity="0.22"/>
<line x1="386.13" y1="33.7" x2="386.13" y2="77.7" stroke="#E78AC3" stroke-width="0.9" stroke-opacity="0.22"/>
<line x1="415.37" y1="52" x2="415.37" y2="96" stroke="#E78AC3" stroke-width="0.9" stroke-opacity="0.22"/>
<line x1="444.61" y1="35.6" x2="444.61" y2="53.6" stroke="#E78AC3" stroke-width="0.9" stroke-opacity="0.22"/>
<line x1="328.85" y1="33.7" x2="328.85" y2="77.7" stroke="#A6D854" stroke-width="0.9" stroke-opacity="0.22"/>
<line x1="358.09" y1="36.4" x2="358.09" y2="80.4" stroke="#A6D854" stroke-width="0.9" stroke-opacity="0.22"/>
<line x1="387.33" y1="34.9" x2="387.33" y2="78.9" stroke="#A6D854" stroke-width="0.9" stroke-opacity="0.22"/>
<line x1="416.57" y1="53.2" x2="416.57" y2="97.2" stroke="#A6D854" stroke-width="0.9" stroke-opacity="0.22"/>
<line x1="445.81" y1="36.8" x2="445.81" y2="80.8" stroke="#A6D854" stroke-width="0.9" stroke-opacity="0.22"/>
<line x1="324.65" y1="95.2" x2="324.65" y2="151.2" stroke="#66C2A5" stroke-width="0.9" stroke-opacity="0.22"/>
<line x1="353.89" y1="104.4" x2="353.89" y2="160.4" stroke="#66C2A5" stroke-width="0.9" stroke-opacity="0.22"/>
<line x1="383.13" y1="134.9" x2="383.13" y2="204.9" stroke="#66C2A5" stroke-width="0.9" stroke-opacity="0.22"/>
<line x1="412.37" y1="116.8" x2="412.37" y2="230.8" stroke="#66C2A5" stroke-width="0.9" stroke-opacity="0.22"/>
<line x1="441.61" y1="121.4" x2="441.61" y2="199.4" stroke="#66C2A5" stroke-width="0.9" stroke-opacity="0.22"/>
<line x1="325.85" y1="105.1" x2="325.85" y2="161.1" stroke="#FC8D62" stroke-width="0.9" stroke-opacity="0.22"/>
<line x1="355.09" y1="103.1" x2="355.09" y2="159.1" stroke="#FC8D62" stroke-width="0.9" stroke-opacity="0.22"/>
<line x1="384.33" y1="128" x2="384.33" y2="198" stroke="#FC8D62" stroke-width="0.9" stroke-opacity="0.22"/>
<line x1="413.57" y1="133.9" x2="413.57" y2="213.9" stroke="#FC8D62" stroke-width="0.9" stroke-opacity="0.22"/>
<line x1="442.81" y1="127" x2="442.81" y2="183" stroke="#FC8D62" stroke-width="0.9" stroke-opacity="0.22"/>
<line x1="327.05" y1="82.9" x2="327.05" y2="138.9" stroke="#8DA0CB" stroke-width="0.9" stroke-opacity="0.22"/>
<line x1="356.29" y1="93.6" x2="356.29" y2="149.6" stroke="#8DA0CB" stroke-width="0.9" stroke-opacity="0.22"/>
<line x1="385.53" y1="112.5" x2="385.53" y2="168.5" stroke="#8DA0CB" stroke-width="0.9" stroke-opacity="0.22"/>
<line x1="414.77" y1="110.8" x2="414.77" y2="166.8" stroke="#8DA0CB" stroke-width="0.9" stroke-opacity="0.22"/>
<line x1="444.01" y1="109.7" x2="444.01" y2="165.7" stroke="#8DA0CB" stroke-width="0.9" stroke-opacity="0.22"/>
<line x1="328.25" y1="105.1" x2="328.25" y2="161.1" stroke="#E78AC3" stroke-width="0.9" stroke-opacity="0.22"/>
<line x1="357.49" y1="108.5" x2="357.49" y2="164.5" stroke="#E78AC3" stroke-width="0.9" stroke-opacity="0.22"/>
<line x1="386.73" y1="132" x2="386.73" y2="188" stroke="#E78AC3" stroke-width="0.9" stroke-opacity="0.22"/>
<line x1="415.97" y1="135.2" x2="415.97" y2="191.2" stroke="#E78AC3" stroke-width="0.9" stroke-opacity="0.22"/>
<line x1="445.21" y1="123.4" x2="445.21" y2="179.4" stroke="#E78AC3" stroke-width="0.9" stroke-opacity="0.22"/>
<line x1="329.45" y1="81" x2="329.45" y2="137" stroke="#A6D854" stroke-width="0.9" stroke-opacity="0.22"/>
<line x1="358.69" y1="84.8" x2="358.69" y2="140.8" stroke="#A6D854" stroke-width="0.9" stroke-opacity="0.22"/>
<line x1="387.93" y1="114.9" x2="387.93" y2="170.9" stroke="#A6D854" stroke-width="0.9" stroke-opacity="0.22"/>
<line x1="417.17" y1="101.3" x2="417.17" y2="157.3" stroke="#A6D854" stroke-width="0.9" stroke-opacity="0.22"/>
<line x1="446.41" y1="99.7" x2="446.41" y2="155.7" stroke="#A6D854" stroke-width="0.9" stroke-opacity="0.22"/>
<polyline points="324.05,59.9 353.29,62.8 382.53,74.7 411.77,77.2 441.01,73.6" fill="none" stroke="#66C2A5" stroke-width="1.6"/>
<polyline points="325.25,71.6 354.49,50.5 383.73,60.2 412.97,80.2 442.21,70.8" fill="none" stroke="#FC8D62" stroke-width="1.6"/>
<polyline points="326.45,58.5 355.69,55.4 384.93,62.4 414.17,78.1 443.41,67.6" fill="none" stroke="#8DA0CB" stroke-width="1.6"/>
<polyline points="327.65,62.8 356.89,51.4 386.13,55.7 415.37,74 444.61,44.6" fill="none" stroke="#E78AC3" stroke-width="1.6"/>
<polyline points="328.85,55.7 358.09,58.4 387.33,56.9 416.57,75.2 445.81,58.8" fill="none" stroke="#A6D854" stroke-width="1.6"/>
<polyline points="324.65,123.2 353.89,132.4 383.13,169.9 412.37,173.8 441.61,160.4" fill="none" stroke="#66C2A5" stroke-width="1.6" stroke-dasharray="2.8 2.2"/>
<polyline points="325.85,133.1 355.09,131.1 384.33,163 413.57,173.9 442.81,155" fill="none" stroke="#FC8D62" stroke-width="1.6" stroke-dasharray="2.8 2.2"/>
<polyline points="327.05,110.9 356.29,121.6 385.53,140.5 414.77,138.8 444.01,137.7" fill="none" stroke="#8DA0CB" stroke-width="1.6" stroke-dasharray="2.8 2.2"/>
<polyline points="328.25,133.1 357.49,136.5 386.73,160 415.97,163.2 445.21,151.4" fill="none" stroke="#E78AC3" stroke-width="1.6" stroke-dasharray="2.8 2.2"/>
<polyline points="329.45,109 358.69,112.8 387.93,142.9 417.17,129.3 446.41,127.7" fill="none" stroke="#A6D854" stroke-width="1.6" stroke-dasharray="2.8 2.2"/>
<circle cx="328.85" cy="55.7" r="2.8" fill="#A6D854"/>
<circle cx="358.09" cy="58.4" r="2.8" fill="#A6D854"/>
<circle cx="387.33" cy="56.9" r="2.8" fill="#A6D854"/>
<circle cx="416.57" cy="75.2" r="2.8" fill="#A6D854"/>
<circle cx="445.81" cy="58.8" r="2.8" fill="#A6D854"/>
<polygon points="327.65,60.35 330.1,62.8 327.65,65.25 325.2,62.8" fill="#E78AC3"/>
<polygon points="356.89,48.95 359.34,51.4 356.89,53.85 354.44,51.4" fill="#E78AC3"/>
<polygon points="386.13,53.25 388.58,55.7 386.13,58.15 383.68,55.7" fill="#E78AC3"/>
<polygon points="415.37,71.55 417.82,74 415.37,76.45 412.92,74" fill="#E78AC3"/>
<polygon points="444.61,42.15 447.06,44.6 444.61,47.05 442.16,44.6" fill="#E78AC3"/>
<polygon points="326.45,55.16 323.55,60.17 329.35,60.17" fill="#8DA0CB"/>
<polygon points="355.69,52.06 352.79,57.07 358.59,57.07" fill="#8DA0CB"/>
<polygon points="384.93,59.06 382.03,64.07 387.83,64.07" fill="#8DA0CB"/>
<polygon points="414.17,74.76 411.27,79.77 417.07,79.77" fill="#8DA0CB"/>
<polygon points="443.41,64.26 440.51,69.27 446.31,69.27" fill="#8DA0CB"/>
<circle cx="325.25" cy="71.6" r="2.45" fill="#FC8D62"/>
<circle cx="354.49" cy="50.5" r="2.45" fill="#FC8D62"/>
<circle cx="383.73" cy="60.2" r="2.45" fill="#FC8D62"/>
<circle cx="412.97" cy="80.2" r="2.45" fill="#FC8D62"/>
<circle cx="442.21" cy="70.8" r="2.45" fill="#FC8D62"/>
<rect x="321.88" y="57.73" width="4.34" height="4.34" fill="#66C2A5"/>
<rect x="351.12" y="60.63" width="4.34" height="4.34" fill="#66C2A5"/>
<rect x="380.36" y="72.53" width="4.34" height="4.34" fill="#66C2A5"/>
<rect x="409.6" y="75.03" width="4.34" height="4.34" fill="#66C2A5"/>
<rect x="438.84" y="71.43" width="4.34" height="4.34" fill="#66C2A5"/>
<circle cx="329.45" cy="109" r="2.8" fill="#A6D854"/>
<circle cx="358.69" cy="112.8" r="2.8" fill="#A6D854"/>
<circle cx="387.93" cy="142.9" r="2.8" fill="#A6D854"/>
<circle cx="417.17" cy="129.3" r="2.8" fill="#A6D854"/>
<circle cx="446.41" cy="127.7" r="2.8" fill="#A6D854"/>
<polygon points="328.25,130.65 330.7,133.1 328.25,135.55 325.8,133.1" fill="#E78AC3"/>
<polygon points="357.49,134.05 359.94,136.5 357.49,138.95 355.04,136.5" fill="#E78AC3"/>
<polygon points="386.73,157.55 389.18,160 386.73,162.45 384.28,160" fill="#E78AC3"/>
<polygon points="415.97,160.75 418.42,163.2 415.97,165.65 413.52,163.2" fill="#E78AC3"/>
<polygon points="445.21,148.95 447.66,151.4 445.21,153.85 442.76,151.4" fill="#E78AC3"/>
<polygon points="327.05,107.56 324.15,112.57 329.95,112.57" fill="#8DA0CB"/>
<polygon points="356.29,118.26 353.39,123.27 359.19,123.27" fill="#8DA0CB"/>
<polygon points="385.53,137.16 382.63,142.17 388.43,142.17" fill="#8DA0CB"/>
<polygon points="414.77,135.46 411.87,140.47 417.67,140.47" fill="#8DA0CB"/>
<polygon points="444.01,134.36 441.11,139.37 446.91,139.37" fill="#8DA0CB"/>
<circle cx="325.85" cy="133.1" r="2.45" fill="#FC8D62"/>
<circle cx="355.09" cy="131.1" r="2.45" fill="#FC8D62"/>
<circle cx="384.33" cy="163" r="2.45" fill="#FC8D62"/>
<circle cx="413.57" cy="173.9" r="2.45" fill="#FC8D62"/>
<circle cx="442.81" cy="155" r="2.45" fill="#FC8D62"/>
<rect x="322.48" y="121.03" width="4.34" height="4.34" fill="#66C2A5"/>
<rect x="351.72" y="130.23" width="4.34" height="4.34" fill="#66C2A5"/>
<rect x="380.96" y="167.73" width="4.34" height="4.34" fill="#66C2A5"/>
<rect x="410.2" y="171.63" width="4.34" height="4.34" fill="#66C2A5"/>
<rect x="439.44" y="158.23" width="4.34" height="4.34" fill="#66C2A5"/>
<rect x="318.15" y="20.9" width="134.1" height="218.35" fill="none" stroke="#B3B3B3" stroke-width="1.1"/>
<rect x="317.6" y="0" width="135.2" height="21.6" fill="#B3B3B3"/>
<text transform="translate(385.2,15.6) scale(1,1.07)" text-anchor="middle" font-family="Liberation Sans, sans-serif" font-weight="bold" font-size="14.6" fill="#FFFFFF">Specificity</text>
<line x1="327.05" y1="239.8" x2="327.05" y2="242.1" stroke="#B3B3B3" stroke-width="0.8"/>
<text x="327.05" y="253.3" text-anchor="middle" font-family="Liberation Sans, sans-serif" font-size="10.6" fill="#4D4D4D" stroke="#4D4D4D" stroke-width="0.1">0.0</text>
<line x1="356.05" y1="239.8" x2="356.05" y2="242.1" stroke="#B3B3B3" stroke-width="0.8"/>
<text x="356.05" y="253.3" text-anchor="middle" font-family="Liberation Sans, sans-serif" font-size="10.6" fill="#4D4D4D" stroke="#4D4D4D" stroke-width="0.1">0.2</text>
<line x1="385.05" y1="239.8" x2="385.05" y2="242.1" stroke="#B3B3B3" stroke-width="0.8"/>
<text x="385.05" y="253.3" text-anchor="middle" font-family="Liberation Sans, sans-serif" font-size="10.6" fill="#4D4D4D" stroke="#4D4D4D" stroke-width="0.1">0.4</text>
<line x1="414.05" y1="239.8" x2="414.05" y2="242.1" stroke="#B3B3B3" stroke-width="0.8"/>
<text x="414.05" y="253.3" text-anchor="middle" font-family="Liberation Sans, sans-serif" font-size="10.6" fill="#4D4D4D" stroke="#4D4D4D" stroke-width="0.1">0.6</text>
<line x1="443.05" y1="239.8" x2="443.05" y2="242.1" stroke="#B3B3B3" stroke-width="0.8"/>
<text x="443.05" y="253.3" text-anchor="middle" font-family="Liberation Sans, sans-serif" font-size="10.6" fill="#4D4D4D" stroke="#4D4D4D" stroke-width="0.1">0.8</text>
<line x1="481.85" y1="21.5" x2="481.85" y2="239.8" stroke="#DEDEDE" stroke-width="0.45"/>
<line x1="510.85" y1="21.5" x2="510.85" y2="239.8" stroke="#DEDEDE" stroke-width="0.45"/>
<line x1="539.85" y1="21.5" x2="539.85" y2="239.8" stroke="#DEDEDE" stroke-width="0.45"/>
<line x1="568.85" y1="21.5" x2="568.85" y2="239.8" stroke="#DEDEDE" stroke-width="0.45"/>
<line x1="457.9" y1="225.21" x2="593.1" y2="225.21" stroke="#DEDEDE" stroke-width="0.45"/>
<line x1="457.9" y1="147.59" x2="593.1" y2="147.59" stroke="#DEDEDE" stroke-width="0.45"/>
<line x1="457.9" y1="69.96" x2="593.1" y2="69.96" stroke="#DEDEDE" stroke-width="0.45"/>
<line x1="467.35" y1="21.5" x2="467.35" y2="239.8" stroke="#DEDEDE" stroke-width="0.8"/>
<line x1="496.35" y1="21.5" x2="496.35" y2="239.8" stroke="#DEDEDE" stroke-width="0.8"/>
<line x1="525.35" y1="21.5" x2="525.35" y2="239.8" stroke="#DEDEDE" stroke-width="0.8"/>
<line x1="554.35" y1="21.5" x2="554.35" y2="239.8" stroke="#DEDEDE" stroke-width="0.8"/>
<line x1="583.35" y1="21.5" x2="583.35" y2="239.8" stroke="#DEDEDE" stroke-width="0.8"/>
<line x1="457.9" y1="186.4" x2="593.1" y2="186.4" stroke="#DEDEDE" stroke-width="0.8"/>
<line x1="457.9" y1="108.78" x2="593.1" y2="108.78" stroke="#DEDEDE" stroke-width="0.8"/>
<line x1="457.9" y1="31.15" x2="593.1" y2="31.15" stroke="#DEDEDE" stroke-width="0.8"/>
<line x1="464.35" y1="49.8" x2="464.35" y2="75.8" stroke="#66C2A5" stroke-width="0.9" stroke-opacity="0.22"/>
<line x1="493.59" y1="51.3" x2="493.59" y2="77.3" stroke="#66C2A5" stroke-width="0.9" stroke-opacity="0.22"/>
<line x1="522.83" y1="49.8" x2="522.83" y2="75.8" stroke="#66C2A5" stroke-width="0.9" stroke-opacity="0.22"/>
<line x1="552.07" y1="54.7" x2="552.07" y2="80.7" stroke="#66C2A5" stroke-width="0.9" stroke-opacity="0.22"/>
<line x1="581.31" y1="59.5" x2="581.31" y2="85.5" stroke="#66C2A5" stroke-width="0.9" stroke-opacity="0.22"/>
<line x1="465.55" y1="57.4" x2="465.55" y2="83.4" stroke="#FC8D62" stroke-width="0.9" stroke-opacity="0.22"/>
<line x1="494.79" y1="39.6" x2="494.79" y2="65.6" stroke="#FC8D62" stroke-width="0.9" stroke-opacity="0.22"/>
<line x1="524.03" y1="40.6" x2="524.03" y2="66.6" stroke="#FC8D62" stroke-width="0.9" stroke-opacity="0.22"/>
<line x1="553.27" y1="59.9" x2="553.27" y2="85.9" stroke="#FC8D62" stroke-width="0.9" stroke-opacity="0.22"/>
<line x1="582.51" y1="52.2" x2="582.51" y2="102.2" stroke="#FC8D62" stroke-width="0.9" stroke-opacity="0.22"/>
<line x1="466.75" y1="46.2" x2="466.75" y2="72.2" stroke="#8DA0CB" stroke-width="0.9" stroke-opacity="0.22"/>
<line x1="495.99" y1="41.6" x2="495.99" y2="67.6" stroke="#8DA0CB" stroke-width="0.9" stroke-opacity="0.22"/>
<line x1="525.23" y1="45.4" x2="525.23" y2="71.4" stroke="#8DA0CB" stroke-width="0.9" stroke-opacity="0.22"/>
<line x1="554.47" y1="61.4" x2="554.47" y2="87.4" stroke="#8DA0CB" stroke-width="0.9" stroke-opacity="0.22"/>
<line x1="583.71" y1="53.4" x2="583.71" y2="79.4" stroke="#8DA0CB" stroke-width="0.9" stroke-opacity="0.22"/>
<line x1="467.95" y1="49.9" x2="467.95" y2="75.9" stroke="#E78AC3" stroke-width="0.9" stroke-opacity="0.22"/>
<line x1="497.19" y1="40.4" x2="497.19" y2="66.4" stroke="#E78AC3" stroke-width="0.9" stroke-opacity="0.22"/>
<line x1="526.43" y1="37.7" x2="526.43" y2="63.7" stroke="#E78AC3" stroke-width="0.9" stroke-opacity="0.22"/>
<line x1="555.67" y1="60.2" x2="555.67" y2="86.2" stroke="#E78AC3" stroke-width="0.9" stroke-opacity="0.22"/>
<line x1="584.91" y1="36.2" x2="584.91" y2="54.2" stroke="#E78AC3" stroke-width="0.9" stroke-opacity="0.22"/>
<line x1="469.15" y1="43.2" x2="469.15" y2="69.2" stroke="#A6D854" stroke-width="0.9" stroke-opacity="0.22"/>
<line x1="498.39" y1="44.4" x2="498.39" y2="70.4" stroke="#A6D854" stroke-width="0.9" stroke-opacity="0.22"/>
<line x1="527.63" y1="36.7" x2="527.63" y2="62.7" stroke="#A6D854" stroke-width="0.9" stroke-opacity="0.22"/>
<line x1="556.87" y1="55.7" x2="556.87" y2="81.7" stroke="#A6D854" stroke-width="0.9" stroke-opacity="0.22"/>
<line x1="586.11" y1="45.9" x2="586.11" y2="71.9" stroke="#A6D854" stroke-width="0.9" stroke-opacity="0.22"/>
<line x1="464.95" y1="100.1" x2="464.95" y2="136.1" stroke="#66C2A5" stroke-width="0.9" stroke-opacity="0.22"/>
<line x1="494.19" y1="117.5" x2="494.19" y2="153.5" stroke="#66C2A5" stroke-width="0.9" stroke-opacity="0.22"/>
<line x1="523.43" y1="129" x2="523.43" y2="165" stroke="#66C2A5" stroke-width="0.9" stroke-opacity="0.22"/>
<line x1="552.67" y1="131.4" x2="552.67" y2="179.4" stroke="#66C2A5" stroke-width="0.9" stroke-opacity="0.22"/>
<line x1="581.91" y1="142.5" x2="581.91" y2="178.5" stroke="#66C2A5" stroke-width="0.9" stroke-opacity="0.22"/>
<line x1="466.15" y1="110.9" x2="466.15" y2="146.9" stroke="#FC8D62" stroke-width="0.9" stroke-opacity="0.22"/>
<line x1="495.39" y1="122" x2="495.39" y2="158" stroke="#FC8D62" stroke-width="0.9" stroke-opacity="0.22"/>
<line x1="524.63" y1="129.9" x2="524.63" y2="165.9" stroke="#FC8D62" stroke-width="0.9" stroke-opacity="0.22"/>
<line x1="553.87" y1="134.9" x2="553.87" y2="170.9" stroke="#FC8D62" stroke-width="0.9" stroke-opacity="0.22"/>
<line x1="583.11" y1="147" x2="583.11" y2="183" stroke="#FC8D62" stroke-width="0.9" stroke-opacity="0.22"/>
<line x1="467.35" y1="85.8" x2="467.35" y2="121.8" stroke="#8DA0CB" stroke-width="0.9" stroke-opacity="0.22"/>
<line x1="496.59" y1="104.5" x2="496.59" y2="140.5" stroke="#8DA0CB" stroke-width="0.9" stroke-opacity="0.22"/>
<line x1="525.83" y1="112.6" x2="525.83" y2="148.6" stroke="#8DA0CB" stroke-width="0.9" stroke-opacity="0.22"/>
<line x1="555.07" y1="110.9" x2="555.07" y2="146.9" stroke="#8DA0CB" stroke-width="0.9" stroke-opacity="0.22"/>
<line x1="584.31" y1="120.5" x2="584.31" y2="156.5" stroke="#8DA0CB" stroke-width="0.9" stroke-opacity="0.22"/>
<line x1="468.55" y1="101.2" x2="468.55" y2="137.2" stroke="#E78AC3" stroke-width="0.9" stroke-opacity="0.22"/>
<line x1="497.79" y1="118" x2="497.79" y2="154" stroke="#E78AC3" stroke-width="0.9" stroke-opacity="0.22"/>
<line x1="527.03" y1="126.2" x2="527.03" y2="162.2" stroke="#E78AC3" stroke-width="0.9" stroke-opacity="0.22"/>
<line x1="556.27" y1="132" x2="556.27" y2="168" stroke="#E78AC3" stroke-width="0.9" stroke-opacity="0.22"/>
<line x1="585.51" y1="139.3" x2="585.51" y2="175.3" stroke="#E78AC3" stroke-width="0.9" stroke-opacity="0.22"/>
<line x1="469.75" y1="83" x2="469.75" y2="119" stroke="#A6D854" stroke-width="0.9" stroke-opacity="0.22"/>
<line x1="498.99" y1="99.2" x2="498.99" y2="135.2" stroke="#A6D854" stroke-width="0.9" stroke-opacity="0.22"/>
<line x1="528.23" y1="107.2" x2="528.23" y2="143.2" stroke="#A6D854" stroke-width="0.9" stroke-opacity="0.22"/>
<line x1="557.47" y1="112" x2="557.47" y2="148" stroke="#A6D854" stroke-width="0.9" stroke-opacity="0.22"/>
<line x1="586.71" y1="116.7" x2="586.71" y2="152.7" stroke="#A6D854" stroke-width="0.9" stroke-opacity="0.22"/>
<polyline points="464.35,62.8 493.59,64.3 522.83,62.8 552.07,67.7 581.31,72.5" fill="none" stroke="#66C2A5" stroke-width="1.6"/>
<polyline points="465.55,70.4 494.79,52.6 524.03,53.6 553.27,72.9 582.51,77.2" fill="none" stroke="#FC8D62" stroke-width="1.6"/>
<polyline points="466.75,59.2 495.99,54.6 525.23,58.4 554.47,74.4 583.71,66.4" fill="none" stroke="#8DA0CB" stroke-width="1.6"/>
<polyline points="467.95,62.9 497.19,53.4 526.43,50.7 555.67,73.2 584.91,45.2" fill="none" stroke="#E78AC3" stroke-width="1.6"/>
<polyline points="469.15,56.2 498.39,57.4 527.63,49.7 556.87,68.7 586.11,58.9" fill="none" stroke="#A6D854" stroke-width="1.6"/>
<polyline points="464.95,118.1 494.19,135.5 523.43,147 552.67,155.4 581.91,160.5" fill="none" stroke="#66C2A5" stroke-width="1.6" stroke-dasharray="2.8 2.2"/>
<polyline points="466.15,128.9 495.39,140 524.63,147.9 553.87,152.9 583.11,165" fill="none" stroke="#FC8D62" stroke-width="1.6" stroke-dasharray="2.8 2.2"/>
<polyline points="467.35,103.8 496.59,122.5 525.83,130.6 555.07,128.9 584.31,138.5" fill="none" stroke="#8DA0CB" stroke-width="1.6" stroke-dasharray="2.8 2.2"/>
<polyline points="468.55,119.2 497.79,136 527.03,144.2 556.27,150 585.51,157.3" fill="none" stroke="#E78AC3" stroke-width="1.6" stroke-dasharray="2.8 2.2"/>
<polyline points="469.75,101 498.99,117.2 528.23,125.2 557.47,130 586.71,134.7" fill="none" stroke="#A6D854" stroke-width="1.6" stroke-dasharray="2.8 2.2"/>
<circle cx="469.15" cy="56.2" r="2.8" fill="#A6D854"/>
<circle cx="498.39" cy="57.4" r="2.8" fill="#A6D854"/>
<circle cx="527.63" cy="49.7" r="2.8" fill="#A6D854"/>
<circle cx="556.87" cy="68.7" r="2.8" fill="#A6D854"/>
<circle cx="586.11" cy="58.9" r="2.8" fill="#A6D854"/>
<polygon points="467.95,60.45 470.4,62.9 467.95,65.35 465.5,62.9" fill="#E78AC3"/>
<polygon points="497.19,50.95 499.64,53.4 497.19,55.85 494.74,53.4" fill="#E78AC3"/>
<polygon points="526.43,48.25 528.88,50.7 526.43,53.15 523.98,50.7" fill="#E78AC3"/>
<polygon points="555.67,70.75 558.12,73.2 555.67,75.65 553.22,73.2" fill="#E78AC3"/>
<polygon points="584.91,42.75 587.36,45.2 584.91,47.65 582.46,45.2" fill="#E78AC3"/>
<polygon points="466.75,55.86 463.85,60.87 469.65,60.87" fill="#8DA0CB"/>
<polygon points="495.99,51.26 493.09,56.27 498.89,56.27" fill="#8DA0CB"/>
<polygon points="525.23,55.06 522.33,60.07 528.13,60.07" fill="#8DA0CB"/>
<polygon points="554.47,71.06 551.57,76.07 557.37,76.07" fill="#8DA0CB"/>
<polygon points="583.71,63.06 580.81,68.07 586.61,68.07" fill="#8DA0CB"/>
<circle cx="465.55" cy="70.4" r="2.45" fill="#FC8D62"/>
<circle cx="494.79" cy="52.6" r="2.45" fill="#FC8D62"/>
<circle cx="524.03" cy="53.6" r="2.45" fill="#FC8D62"/>
<circle cx="553.27" cy="72.9" r="2.45" fill="#FC8D62"/>
<circle cx="582.51" cy="77.2" r="2.45" fill="#FC8D62"/>
<rect x="462.18" y="60.63" width="4.34" height="4.34" fill="#66C2A5"/>
<rect x="491.42" y="62.13" width="4.34" height="4.34" fill="#66C2A5"/>
<rect x="520.66" y="60.63" width="4.34" height="4.34" fill="#66C2A5"/>
<rect x="549.9" y="65.53" width="4.34" height="4.34" fill="#66C2A5"/>
<rect x="579.14" y="70.33" width="4.34" height="4.34" fill="#66C2A5"/>
<circle cx="469.75" cy="101" r="2.8" fill="#A6D854"/>
<circle cx="498.99" cy="117.2" r="2.8" fill="#A6D854"/>
<circle cx="528.23" cy="125.2" r="2.8" fill="#A6D854"/>
<circle cx="557.47" cy="130" r="2.8" fill="#A6D854"/>
<circle cx="586.71" cy="134.7" r="2.8" fill="#A6D854"/>
<polygon points="468.55,116.75 471,119.2 468.55,121.65 466.1,119.2" fill="#E78AC3"/>
<polygon points="497.79,133.55 500.24,136 497.79,138.45 495.34,136" fill="#E78AC3"/>
<polygon points="527.03,141.75 529.48,144.2 527.03,146.65 524.58,144.2" fill="#E78AC3"/>
<polygon points="556.27,147.55 558.72,150 556.27,152.45 553.82,150" fill="#E78AC3"/>
<polygon points="585.51,154.85 587.96,157.3 585.51,159.75 583.06,157.3" fill="#E78AC3"/>
<polygon points="467.35,100.46 464.45,105.47 470.25,105.47" fill="#8DA0CB"/>
<polygon points="496.59,119.16 493.69,124.17 499.49,124.17" fill="#8DA0CB"/>
<polygon points="525.83,127.26 522.93,132.27 528.73,132.27" fill="#8DA0CB"/>
<polygon points="555.07,125.56 552.17,130.57 557.97,130.57" fill="#8DA0CB"/>
<polygon points="584.31,135.16 581.41,140.17 587.21,140.17" fill="#8DA0CB"/>
<circle cx="466.15" cy="128.9" r="2.45" fill="#FC8D62"/>
<circle cx="495.39" cy="140" r="2.45" fill="#FC8D62"/>
<circle cx="524.63" cy="147.9" r="2.45" fill="#FC8D62"/>
<circle cx="553.87" cy="152.9" r="2.45" fill="#FC8D62"/>
<circle cx="583.11" cy="165" r="2.45" fill="#FC8D62"/>
<rect x="462.78" y="115.93" width="4.34" height="4.34" fill="#66C2A5"/>
<rect x="492.02" y="133.33" width="4.34" height="4.34" fill="#66C2A5"/>
<rect x="521.26" y="144.83" width="4.34" height="4.34" fill="#66C2A5"/>
<rect x="550.5" y="153.23" width="4.34" height="4.34" fill="#66C2A5"/>
<rect x="579.74" y="158.33" width="4.34" height="4.34" fill="#66C2A5"/>
<rect x="458.45" y="20.9" width="134.1" height="218.35" fill="none" stroke="#B3B3B3" stroke-width="1.1"/>
<rect x="457.9" y="0" width="135.2" height="21.6" fill="#B3B3B3"/>
<text transform="translate(525.5,15.6) scale(1,1.07)" text-anchor="middle" font-family="Liberation Sans, sans-serif" font-weight="bold" font-size="14.6" fill="#FFFFFF">AUC</text>
<line x1="467.35" y1="239.8" x2="467.35" y2="242.1" stroke="#B3B3B3" stroke-width="0.8"/>
<text x="467.35" y="253.3" text-anchor="middle" font-family="Liberation Sans, sans-serif" font-size="10.6" fill="#4D4D4D" stroke="#4D4D4D" stroke-width="0.1">0.0</text>
<line x1="496.35" y1="239.8" x2="496.35" y2="242.1" stroke="#B3B3B3" stroke-width="0.8"/>
<text x="496.35" y="253.3" text-anchor="middle" font-family="Liberation Sans, sans-serif" font-size="10.6" fill="#4D4D4D" stroke="#4D4D4D" stroke-width="0.1">0.2</text>
<line x1="525.35" y1="239.8" x2="525.35" y2="242.1" stroke="#B3B3B3" stroke-width="0.8"/>
<text x="525.35" y="253.3" text-anchor="middle" font-family="Liberation Sans, sans-serif" font-size="10.6" fill="#4D4D4D" stroke="#4D4D4D" stroke-width="0.1">0.4</text>
<line x1="554.35" y1="239.8" x2="554.35" y2="242.1" stroke="#B3B3B3" stroke-width="0.8"/>
<text x="554.35" y="253.3" text-anchor="middle" font-family="Liberation Sans, sans-serif" font-size="10.6" fill="#4D4D4D" stroke="#4D4D4D" stroke-width="0.1">0.6</text>
<line x1="583.35" y1="239.8" x2="583.35" y2="242.1" stroke="#B3B3B3" stroke-width="0.8"/>
<text x="583.35" y="253.3" text-anchor="middle" font-family="Liberation Sans, sans-serif" font-size="10.6" fill="#4D4D4D" stroke="#4D4D4D" stroke-width="0.1">0.8</text>
<line x1="34.3" y1="186.4" x2="37" y2="186.4" stroke="#B3B3B3" stroke-width="0.8"/>
<text x="23.5" y="190.95" text-anchor="middle" font-family="Liberation Sans, sans-serif" font-size="10.6" fill="#4D4D4D" stroke="#4D4D4D" stroke-width="0.1">80</text>
<line x1="34.3" y1="108.78" x2="37" y2="108.78" stroke="#B3B3B3" stroke-width="0.8"/>
<text x="23.5" y="112.95" text-anchor="middle" font-family="Liberation Sans, sans-serif" font-size="10.6" fill="#4D4D4D" stroke="#4D4D4D" stroke-width="0.1">90</text>
<line x1="34.3" y1="31.15" x2="37" y2="31.15" stroke="#B3B3B3" stroke-width="0.8"/>
<path transform="translate(14.66,35.05) scale(0.005176,-0.005176)" d="M763 0H583V1147Q518 1085 412.5 1023T223 930V1104Q373 1175 485.5 1276T645 1472H763Z" fill="#4D4D4D" stroke="#4D4D4D" stroke-width="19.3"/>
<text x="20.55" y="35.05" font-family="Liberation Sans, sans-serif" font-size="10.6" fill="#4D4D4D" stroke="#4D4D4D" stroke-width="0.1">00</text>
<text x="315.2" y="266.2" text-anchor="middle" font-family="Liberation Sans, sans-serif" font-weight="bold" font-style="italic" font-size="12.7" fill="#000000">Noise parameters</text>
<text transform="translate(9.0,130.4) rotate(-90)" x="0" y="0" text-anchor="middle" font-family="Liberation Sans, sans-serif" font-weight="bold" font-style="italic" font-size="12.7" fill="#000000">Percentage(%)</text>
<text x="609" y="55.9" font-family="Liberation Sans, sans-serif" font-weight="bold" font-style="italic" font-size="8.8" fill="#000000">type</text>
<line x1="610" y1="69.6" x2="623.8" y2="69.6" stroke="#000000" stroke-width="1.3"/>
<line x1="610" y1="86.4" x2="623.8" y2="86.4" stroke="#000000" stroke-width="1.3" stroke-dasharray="2.8 2.2"/>
<text transform="translate(630,72.9) scale(1,1.1)" font-family="Liberation Sans, sans-serif" font-size="8.6" fill="#000000" stroke="#000000" stroke-width="0.08">Train</text>
<text transform="translate(630,89.7) scale(1,1.1)" font-family="Liberation Sans, sans-serif" font-size="8.6" fill="#000000" stroke="#000000" stroke-width="0.08">Test</text>
<text x="609" y="123.7" font-family="Liberation Sans, sans-serif" font-weight="bold" font-style="italic" font-size="8.8" fill="#000000">method</text>
<line x1="610" y1="137.5" x2="623.8" y2="137.5" stroke="#66C2A5" stroke-width="1.4"/>
<rect x="614.83" y="135.33" width="4.34" height="4.34" fill="#66C2A5"/>
<text transform="translate(630,140.8) scale(1,1.1)" font-family="Liberation Sans, sans-serif" font-size="8.6" fill="#000000" stroke="#000000" stroke-width="0.08">L1</text>
<line x1="610" y1="154.3" x2="623.8" y2="154.3" stroke="#FC8D62" stroke-width="1.4"/>
<circle cx="617" cy="154.3" r="2.45" fill="#FC8D62"/>
<text transform="translate(630,157.6) scale(1,1.1)" font-family="Liberation Sans, sans-serif" font-size="8.6" fill="#000000" stroke="#000000" stroke-width="0.08">LEN</text>
<line x1="610" y1="171.1" x2="623.8" y2="171.1" stroke="#8DA0CB" stroke-width="1.4"/>
<polygon points="617,167.76 614.1,172.77 619.9,172.77" fill="#8DA0CB"/>
<text transform="translate(630,174.4) scale(1,1.1)" font-family="Liberation Sans, sans-serif" font-size="8.6" fill="#000000" stroke="#000000" stroke-width="0.08">SPL</text>
<line x1="610" y1="187.9" x2="623.8" y2="187.9" stroke="#E78AC3" stroke-width="1.4"/>
<polygon points="617,185.45 619.45,187.9 617,190.35 614.55,187.9" fill="#E78AC3"/>
<text transform="translate(630,191.2) scale(1,1.1)" font-family="Liberation Sans, sans-serif" font-size="8.6" fill="#000000" stroke="#000000" stroke-width="0.08">Ensemble_EN</text>
<line x1="610" y1="204.7" x2="623.8" y2="204.7" stroke="#A6D854" stroke-width="1.4"/>
<circle cx="617" cy="204.7" r="2.8" fill="#A6D854"/>
<text transform="translate(630,208) scale(1,1.1)" font-family="Liberation Sans, sans-serif" font-size="8.6" fill="#000000" stroke="#000000" stroke-width="0.08">MVSPL</text>
</svg>
</body></html>
